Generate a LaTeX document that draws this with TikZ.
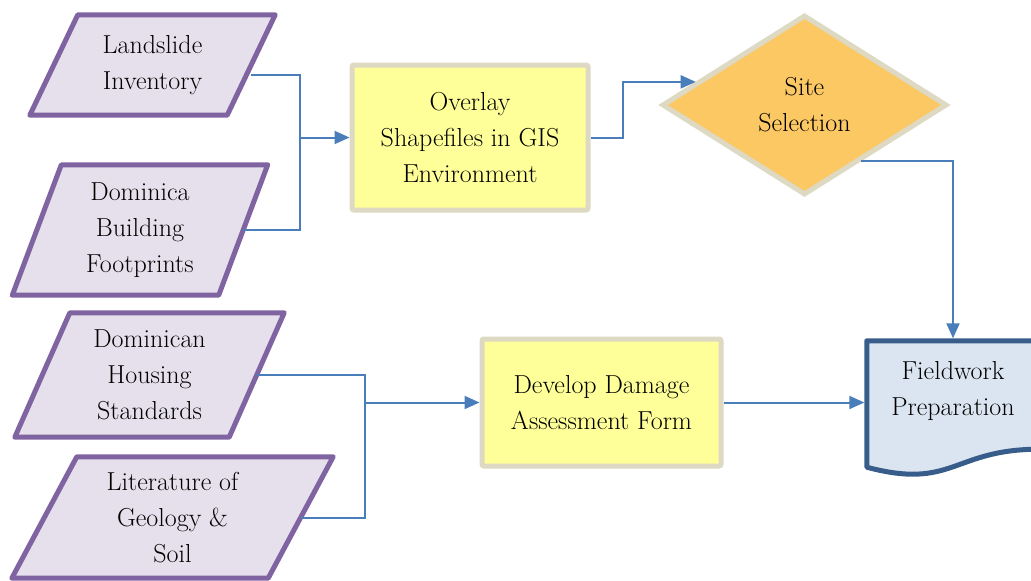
\documentclass[tikz,border=0pt]{standalone}
\usepackage{fontspec}
\usetikzlibrary{shapes.geometric,arrows.meta,backgrounds}

\definecolor{dataline}{HTML}{8064A2}
\definecolor{datafill}{HTML}{E5E0EC}
\definecolor{procline}{HTML}{DDD9C3}
\definecolor{procfill}{HTML}{FFFF99}
\definecolor{decfill}{HTML}{FCC864}
\definecolor{docline}{HTML}{385D8A}
\definecolor{docfill}{HTML}{DBE5F1}
\definecolor{flow}{HTML}{4A7EBB}

\begin{document}
\begin{tikzpicture}[x=1pt,y=-1pt,
	every node/.style={font=\fontsize{26}{36}\selectfont, align=center},
	data/.style={shape=rectangle, inner sep=0pt},
	dataframe/.style={draw=dataline, fill=datafill, line width=5pt, line join=round},
	proc/.style={draw=procline, fill=procfill, line width=5pt, rounded corners=2pt, shape=rectangle},
	flowline/.style={draw=flow, line width=2pt},
	flowarrow/.style={flowline, -{Triangle[length=15pt,width=13pt]}}]
	\useasboundingbox (0,0) rectangle (1031,581);

	\node[data, minimum width=197pt, minimum height=100pt] (inv) at (152.5,65) {Landslide\\Inventory};
	\node[data, minimum width=206pt, minimum height=130pt] (bldg) at (140,230) {Dominica\\Building\\Footprints};
	\node[data, minimum width=214pt, minimum height=124pt] (hsg) at (149.5,375) {Dominican\\Housing\\Standards};
	\node[data, minimum width=256pt, minimum height=121pt] (geo) at (172.5,517.5) {Literature of\\Geology \&\\Soil};

	\node[proc, minimum width=236pt, minimum height=145pt] (ovl) at (470,137.5) {Overlay\\Shapefiles in GIS\\Environment};
	\node[proc, minimum width=239pt, minimum height=127pt] (dev) at (601.5,402.5) {Develop Damage\\Assessment Form};
	\node[shape=diamond, draw=procline, fill=decfill, line width=5pt, aspect=1.58, minimum width=285pt, minimum height=180pt, inner sep=0pt] (site) at (804.5,105) {Site\\Selection};

	\node[minimum width=172pt, minimum height=100pt] (fw) at (953,391) {Fieldwork\\Preparation};

	\begin{pgfonlayer}{background}
		% slanted input frames, shift = half the slant
		\foreach \n/\s in {inv/24, bldg/24.5, hsg/27.5, geo/32.5}
			\draw[dataframe] ([xshift=\s pt]\n.north west) -- ([xshift=\s pt]\n.north east) -- ([xshift=-\s pt]\n.south east) -- ([xshift=-\s pt]\n.south west) -- cycle;
		\draw[draw=docline, fill=docfill, line width=5pt, line join=round] (fw.north west) -- (fw.north east) -- ([yshift=-8pt]fw.south east) .. controls ([yshift=-8pt]fw.south) and ([yshift=-49pt]fw.south) .. ([yshift=-26pt]fw.south west) -- cycle;
	\end{pgfonlayer}

	% inputs to the GIS overlay
	\coordinate (j1) at (300,137.5);
	\draw[flowline] ([yshift=-10pt]inv.east) -| (j1);
	\draw[flowline] (bldg.east) -| (j1);
	\draw[flowarrow] (j1) -- (ovl.west);
	\draw[flowarrow] (ovl.east) -- ++(32,0) |- (site.168);
	\draw[flowarrow, shorten >=2.5pt] (site.-45) -| (fw.north);

	% inputs to the assessment form
	\coordinate (j2) at (365,402.5);
	\draw[flowline] (hsg.east) -| (j2);
	\draw[flowline] (geo.east) -| (j2);
	\draw[flowarrow] (j2) -- (dev.west);
	\draw[flowarrow, shorten >=2.5pt] (dev.east) -- (dev.east -| fw.west);
\end{tikzpicture}
\end{document}
